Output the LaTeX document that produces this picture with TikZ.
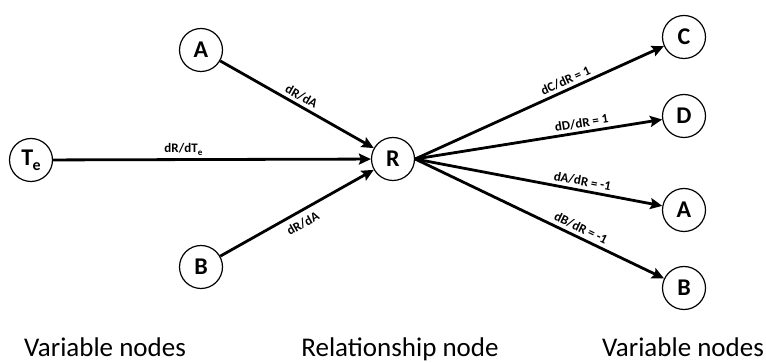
\documentclass[tikz,border=0pt]{standalone}
\usepackage{fontspec}
\setmainfont{Carlito}
\usetikzlibrary{arrows.meta}
\begin{document}
\begin{tikzpicture}[x=1pt,y=-1pt,
  vnode/.style={circle,draw,line width=1.2pt,minimum size=43pt,inner sep=0pt,font=\fontsize{24}{26}\selectfont\bfseries},
  link/.style={line width=2.8pt,-{Stealth[length=12pt,width=11pt,inset=2pt]}},
  lab/.style={font=\fontsize{13}{15}\selectfont\bfseries,sloped,inner sep=3pt},
  captxt/.style={font=\fontsize{27}{30}\selectfont,anchor=base}]
\useasboundingbox (0,0) rectangle (766,363);
\node[vnode] (Te) at (31,160) {T\kern-0.5pt\raisebox{-5pt}{\fontsize{16}{17}\selectfont e}};
\node[vnode] (A1) at (201,50) {A};
\node[vnode] (B1) at (201,267) {B};
\node[vnode] (R) at (393,159) {R};
\node[vnode] (C) at (684,37) {C};
\node[vnode] (D) at (684,116) {D};
\node[vnode] (A2) at (684,210) {A};
\node[vnode] (B2) at (684,288) {B};
\draw[link] (Te) -- node[lab,above,pos=0.41] {dR/dT\raisebox{-2.5pt}{\fontsize{9}{10}\selectfont e}} (R);
\draw[link] (A1) -- node[lab,above,pos=0.5] {dR/dA} (R);
\draw[link] (B1) -- node[lab,below,pos=0.5,inner sep=6pt] {dR/dA} (R);
\draw[link] (R.east) -- node[lab,above,pos=0.62] {dC/dR = 1} (C);
\draw[link] (R.east) -- node[lab,above,pos=0.68] {dD/dR = 1} (D);
\draw[link] (R.east) -- node[lab,above,pos=0.67] {dA/dR = -1} (A2);
\draw[link] (R.east) -- node[lab,above,pos=0.65] {dB/dR = -1} (B2);
\node[captxt] (t1) at (105,357) {Variable nodes};
\node[captxt] (t2) at (400,357) {Relationship node};
\node[captxt] (t3) at (683,357) {Variable nodes};
\end{tikzpicture}
\end{document}
